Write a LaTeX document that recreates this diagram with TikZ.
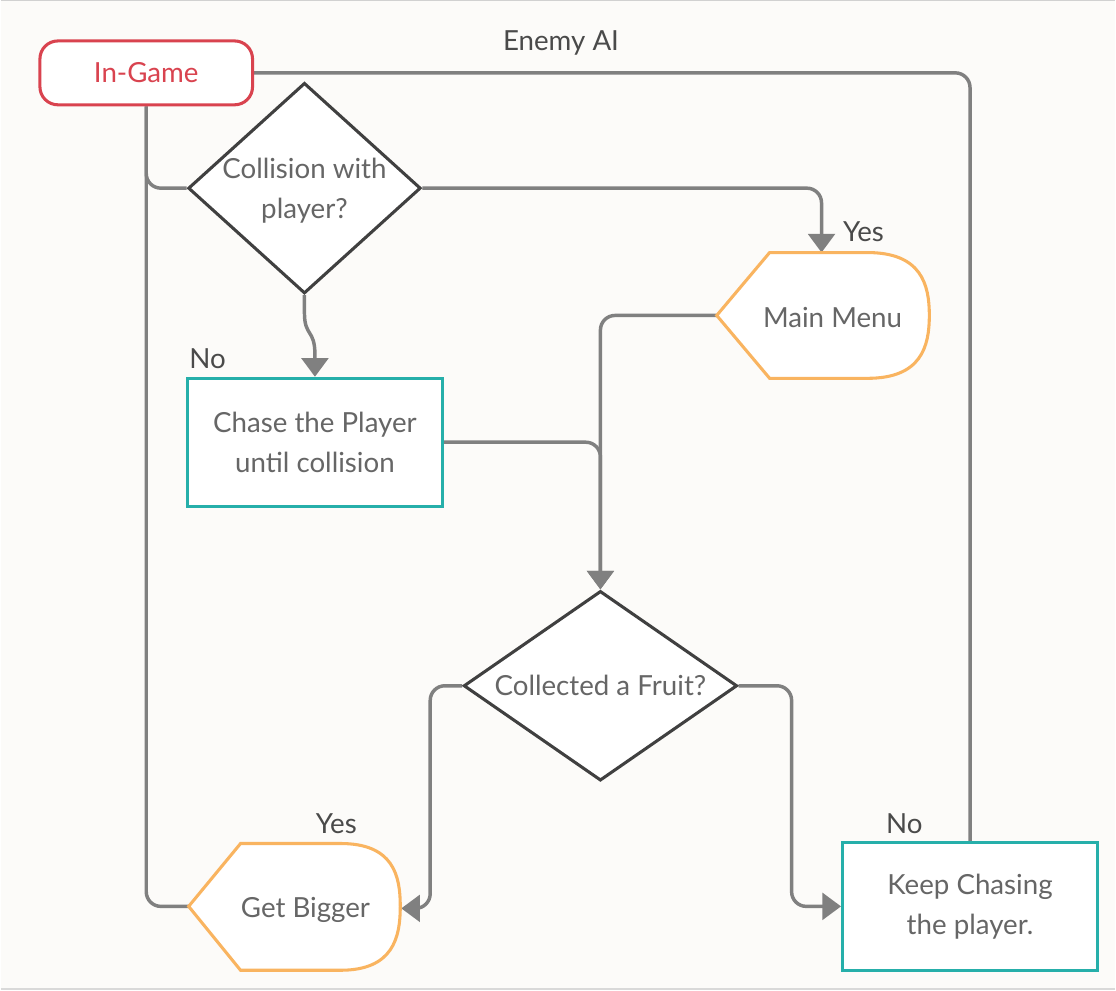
\documentclass[tikz,border=0pt]{standalone}
\usepackage{fontspec}
\setmainfont{Lato}
\usetikzlibrary{shapes.geometric,arrows.meta,calc}
\definecolor{bgc}{HTML}{FCFBF9}
\definecolor{edgec}{HTML}{808080}
\definecolor{redc}{HTML}{D9434F}
\definecolor{orangec}{HTML}{F9B460}
\definecolor{tealc}{HTML}{26AFAA}
\definecolor{diac}{HTML}{404040}
\definecolor{txtc}{HTML}{666666}
\definecolor{lblc}{HTML}{4A4A4A}
\pgfdeclarelayer{backdrop}
\pgfdeclarelayer{wires}
\pgfsetlayers{backdrop,wires,main}
\begin{document}
\begin{tikzpicture}[x=0.75pt,y=-0.75pt,
  lbl/.style={font=\fontsize{20.8pt}{30pt}\selectfont, text=txtc, align=center, inner sep=0pt},
  side/.style={font=\fontsize{20.8pt}{30pt}\selectfont, text=lblc, inner sep=0pt},
  startbox/.style={draw=redc, line width=2.3pt, fill=white, rounded corners=13.5pt,
     minimum width=159.75pt, minimum height=48pt, font=\fontsize{20.8pt}{30pt}\selectfont, text=redc},
  procbox/.style={draw=tealc, line width=2.3pt, fill=white, minimum width=191.5pt, minimum height=96pt, lbl},
  decision/.style={diamond, draw=diac, line width=2.3pt, fill=white, inner sep=0pt},
  dispshape/.style={draw=orangec, line width=2.3pt, fill=white, line join=miter},
  conn/.style={draw=edgec, line width=2.6pt, rounded corners=11pt},
  arr/.style={conn, -{Triangle[width=20pt,length=14pt]}},
]
% background and frame lines
\begin{pgfonlayer}{backdrop}
\fill[bgc] (0,0) rectangle (1116,992);
\draw[color=black!18, line width=0.9pt] (0,0.6) -- (1116,0.6);
\draw[color=black!15, line width=1.5pt] (0,990.5) -- (1116,990.5);
\end{pgfonlayer}
\useasboundingbox (0,0) rectangle (1116,992);

% shapes
\node[startbox] (ig) at (145.5,73) {In-Game};
\node[decision, minimum width=174.75pt, minimum height=158.25pt] (d1) at (304,188.5) {};
\node[lbl] (d1text) at (304,191) {Collision with\\player?};
\node[procbox] (chase) at (314.5,443) {Chase the Player\\until collision};
\node[decision, minimum width=205.5pt, minimum height=142.5pt] (d2) at (600.5,687) {};
\node[lbl] (d2text) at (d2) {Collected a Fruit?};
\node[procbox] (kc) at (970.75,908) {Keep Chasing\\the player.};

% Main Menu display shape
\path[dispshape] (717,316) -- (770,253) -- (868,253)
   .. controls (922,253) and (930,285) .. (930,316)
   .. controls (930,347) and (922,379) .. (868,379)
   -- (770,379) -- cycle;
\node[lbl] (mm) at (833,318) {Main Menu};
\coordinate (mmtip) at (717,316);
\coordinate (mmtop) at (822,253);

% Get Bigger display shape
\path[dispshape] (188,908) -- (240,845) -- (340,845)
   .. controls (393,845) and (400,877) .. (400,908)
   .. controls (400,939) and (393,972) .. (340,972)
   -- (240,972) -- cycle;
\node[lbl] (gb) at (305,912) {Get Bigger};
\coordinate (gbtip) at (188,908);
\coordinate (gbright) at (401,910);

% connectors (under the shapes)
\begin{pgfonlayer}{wires}
\path[conn] (ig.south) |- (d1.west);
\path[conn] (ig.south) |- (gbtip);
\path[conn] (ig.east) -| (kc.north);
\path[arr] (d1.east) -| (mmtop);
\path[arr, sharp corners] (d1.south) -- ++(0,18) .. controls +(0,24) and +(0,-26) .. ($(chase.north)+(0,-22)$) -- (chase.north);
\path[arr] (mmtip) -| (d2.north);
\path[arr] (chase.east) -| (d2.north);
\path[arr] (d2.west) -- ++(-32,0) |- (gbright);
\path[arr] (d2.east) -- ++(53,0) |- (kc.west);
\end{pgfonlayer}

% edge labels
\node[side] (lai) at (561,43) {Enemy AI};
\node[side] (ly1) at (864,232) {Yes};
\node[side] (ln1) at (207,359) {No};
\node[side] (ly2) at (336,825) {Yes};
\node[side] (ln2) at (905,825) {No};
\end{tikzpicture}
\end{document}
